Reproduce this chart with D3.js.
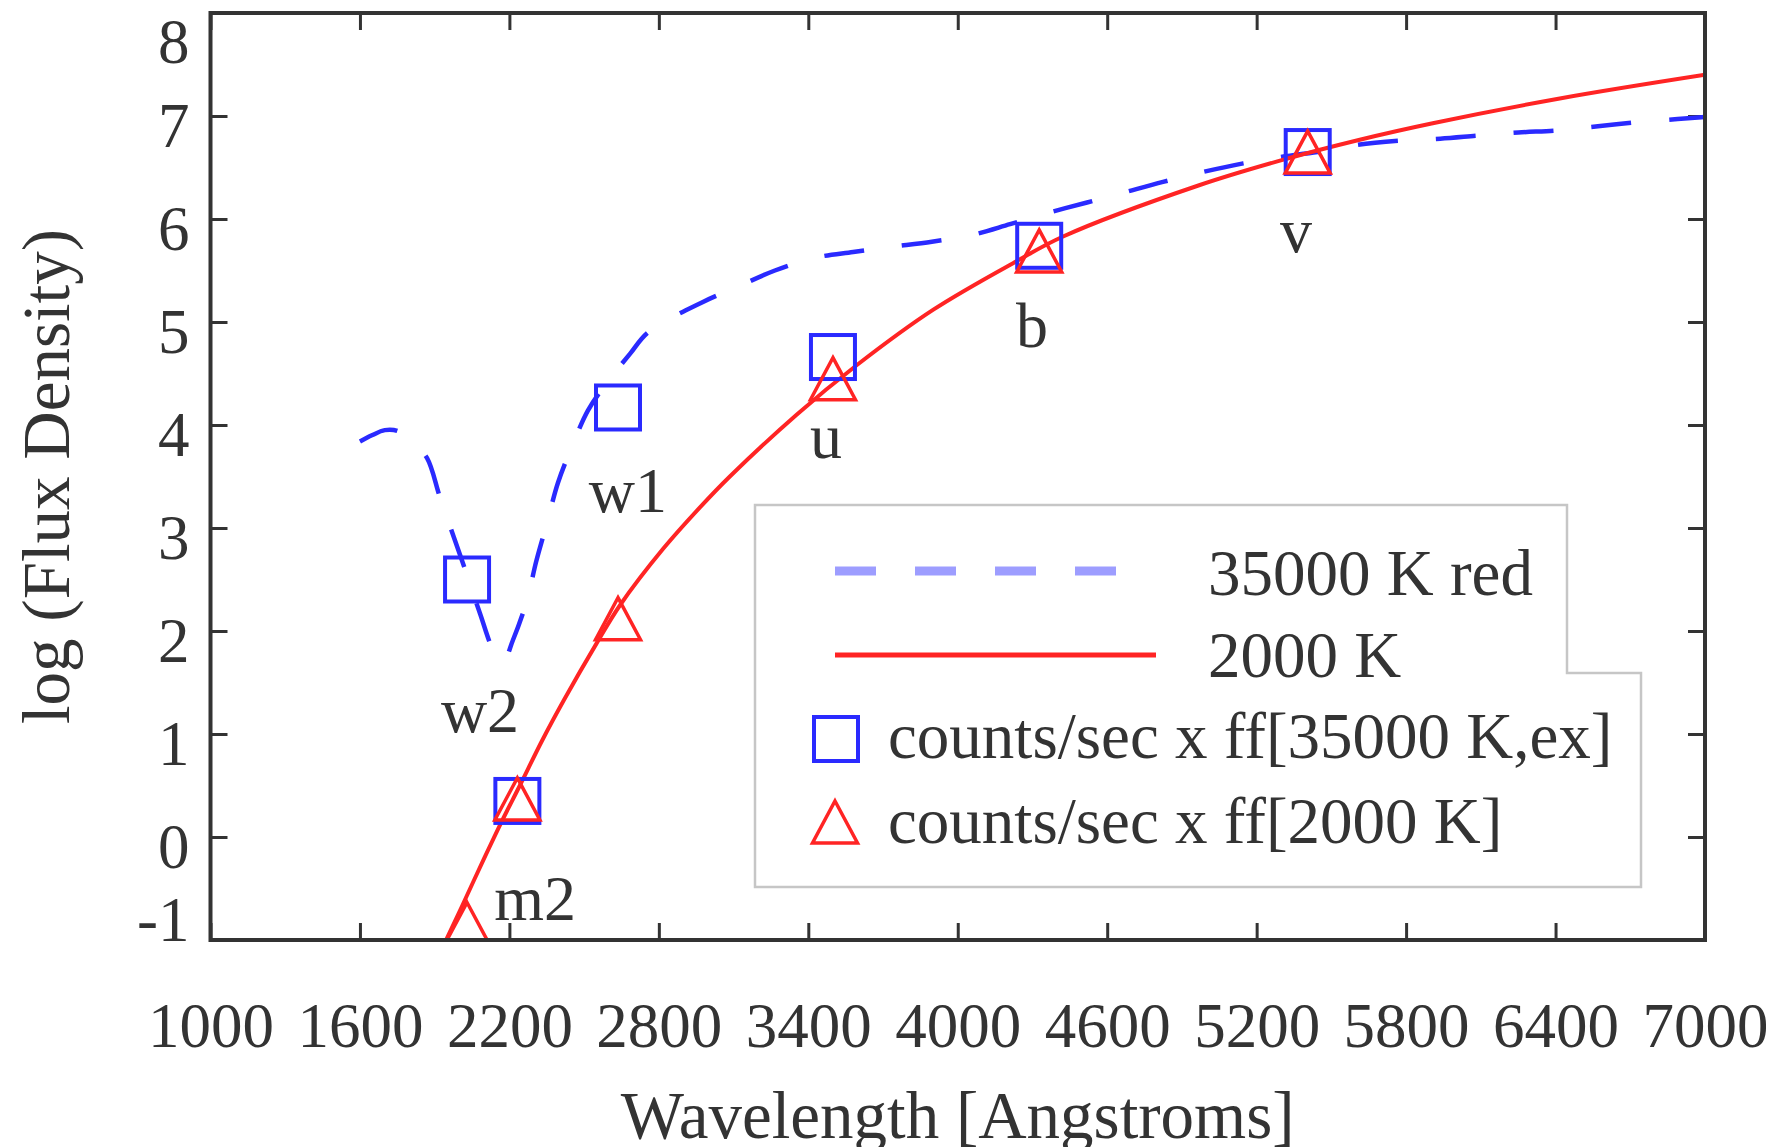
<!DOCTYPE html>
<html>
<head>
<meta charset="utf-8">
<script src="https://cdn.jsdelivr.net/npm/d3@7/dist/d3.min.js"></script>
<style>
  html, body { margin: 0; padding: 0; background: #fff; }
  svg text { font-family: "Liberation Serif", "Times New Roman", serif; fill: #333; }
</style>
</head>
<body>
<svg id="chart" width="1766" height="1147"></svg>
<script>
// photometric points, one per filter
const filters = ["w2", "m2", "w1", "u", "b", "v"];
const filterWave = [2030, 2232, 2636, 3499, 4327, 5405];
const squareFlux = [2.50, 0.35, 4.17, 4.66, 5.74, 6.65];
const triangleFlux = [-0.84, 0.37, 2.12, 4.45, 5.69, 6.65];
// where the filter names sit (baseline, centred)
const labelWave = [2082, 2303, 2676, 3471, 4298, 5358];
const labelFlux = [1.02, -0.81, 3.16, 3.68, 4.76, 5.68];

// 35000 K reddened model (dashed blue)
const hotWave = [1600, 1648, 1700, 1753, 1813, 1869, 1921, 1977, 2026, 2082, 2138, 2174,
  2214, 2271, 2307, 2351, 2395, 2451, 2515, 2588, 2684, 2757, 2973, 3114, 3266, 3419,
  3580, 3736, 3896, 4049, 4210, 4363, 4519, 4671, 4824, 4973, 5146, 5294, 5494, 5606,
  5775, 5937, 6089, 6250, 6410, 6570, 6729, 6890, 7000];
const hotFlux = [3.84, 3.90, 3.95, 3.94, 3.83, 3.68, 3.30, 2.91, 2.57, 2.17, 1.80, 1.70,
  1.91, 2.30, 2.67, 3.05, 3.44, 3.79, 4.14, 4.40, 4.69, 4.90, 5.19, 5.34, 5.50, 5.62,
  5.68, 5.73, 5.78, 5.84, 5.95, 6.06, 6.16, 6.26, 6.36, 6.45, 6.54, 6.60, 6.67, 6.72,
  6.76, 6.78, 6.81, 6.84, 6.86, 6.90, 6.94, 6.97, 6.99];

// 2000 K model (solid red)
const coolWave = [1930, 1948, 2012, 2100, 2169, 2242, 2330, 2419, 2550, 2644, 2818, 2965,
  3085, 3353, 3594, 3902, 4236, 4423, 4972, 5313, 5614, 5907, 6417, 7000];
const coolFlux = [-1.08, -0.99, -0.66, -0.20, 0.15, 0.50, 0.93, 1.33, 1.88, 2.25, 2.80, 3.20,
  3.50, 4.10, 4.58, 5.12, 5.59, 5.83, 6.33, 6.58, 6.77, 6.93, 7.17, 7.40];

const xTicks = [1000, 1600, 2200, 2800, 3400, 4000, 4600, 5200, 5800, 6400, 7000];
const yTicks = [-1, 0, 1, 2, 3, 4, 5, 6, 7, 8];
const legendLabels = ["35000 K red", "2000 K", "counts/sec x ff[35000 K,ex]", "counts/sec x ff[2000 K]"];

const blue = "#2a2aff", red = "#ff2424", axisColor = "#333";
const plotLeft = 210.5, plotRight = 1705, plotTop = 13, plotBottom = 940;

const svg = d3.select("#chart");

const x = d3.scaleLinear().domain([1000, 7000]).range([plotLeft, plotRight]);
const y = d3.scaleLinear().domain([-1, 8]).range([plotBottom, plotTop]);

svg.append("defs").append("clipPath").attr("id", "plot-clip")
  .append("rect")
  .attr("x", plotLeft).attr("y", plotTop)
  .attr("width", plotRight - plotLeft).attr("height", plotBottom - plotTop);

// ---- axes: ticks pointing inward on all four sides
function styleAxis(g) {
  g.select(".domain").remove();
  g.selectAll(".tick line").attr("stroke", axisColor).attr("stroke-width", 3);
}

svg.append("g")
  .attr("transform", `translate(0,${plotBottom})`)
  .call(d3.axisBottom(x).tickValues(xTicks).tickSizeInner(-17).tickSizeOuter(0).tickFormat(d => String(d)))
  .call(styleAxis)
  .call(g => g.selectAll(".tick text")
    .attr("y", 107).attr("dy", 0)
    .style("font-size", "63px"));

svg.append("g")
  .attr("transform", `translate(0,${plotTop})`)
  .call(d3.axisTop(x).tickValues(xTicks).tickSizeInner(-17).tickSizeOuter(0).tickFormat(""))
  .call(styleAxis);

// labels sit a bit under their tick, the end ones are squeezed inside the figure
svg.append("g")
  .attr("transform", `translate(${plotLeft},0)`)
  .call(d3.axisLeft(y).tickValues(yTicks).tickSizeInner(-17).tickSizeOuter(0).tickFormat(d => String(d)))
  .call(styleAxis)
  .call(g => g.selectAll(".tick text")
    .attr("x", -21)
    .attr("dy", 0)
    .attr("y", d => d === 8 ? 49 : d === -1 ? 0 : 30)
    .style("font-size", "63px"));

svg.append("g")
  .attr("transform", `translate(${plotRight},0)`)
  .call(d3.axisRight(y).tickValues(yTicks).tickSizeInner(-17).tickSizeOuter(0).tickFormat(""))
  .call(styleAxis);

// ---- curves and markers
const plot = svg.append("g").attr("clip-path", "url(#plot-clip)");

const line = d3.line()
  .x(d => x(d[0]))
  .y(d => y(d[1]))
  .curve(d3.curveCatmullRom.alpha(0.5));

plot.append("path")
  .datum(d3.zip(hotWave, hotFlux))
  .attr("d", line)
  .attr("fill", "none")
  .attr("stroke", blue)
  .attr("stroke-width", 4.5)
  .attr("stroke-dasharray", "40,38");

plot.append("path")
  .datum(d3.zip(coolWave, coolFlux))
  .attr("d", line)
  .attr("fill", "none")
  .attr("stroke", red)
  .attr("stroke-width", 4);

const sq = 44;
const triPath = "M0,-21L22.5,21L-22.5,21Z";

plot.selectAll("rect.square")
  .data(d3.zip(filterWave, squareFlux))
  .join("rect")
  .attr("class", "square")
  .attr("x", d => x(d[0]) - sq / 2)
  .attr("y", d => y(d[1]) - sq / 2)
  .attr("width", sq).attr("height", sq)
  .attr("fill", "none")
  .attr("stroke", blue)
  .attr("stroke-width", 4);

plot.selectAll("path.triangle")
  .data(d3.zip(filterWave, triangleFlux))
  .join("path")
  .attr("class", "triangle")
  .attr("d", triPath)
  .attr("transform", d => `translate(${x(d[0])},${y(d[1])})`)
  .attr("fill", "none")
  .attr("stroke", red)
  .attr("stroke-width", 3.5);

svg.selectAll("text.filter")
  .data(filters)
  .join("text")
  .attr("class", "filter")
  .attr("x", (d, i) => x(labelWave[i]))
  .attr("y", (d, i) => y(labelFlux[i]))
  .attr("text-anchor", "middle")
  .style("font-size", "64px")
  .text(d => d);

// ---- frame
svg.append("rect")
  .attr("x", plotLeft).attr("y", plotTop)
  .attr("width", plotRight - plotLeft).attr("height", plotBottom - plotTop)
  .attr("fill", "none")
  .attr("stroke", axisColor)
  .attr("stroke-width", 4);

// ---- legend (box has a step on its right side)
const legend = svg.append("g");
legend.append("path")
  .attr("d", "M755,505H1567V673H1641V887H755Z")
  .attr("fill", "#fff")
  .attr("stroke", "#c6c6c6")
  .attr("stroke-width", 2.5);

legend.append("line")
  .attr("x1", 835).attr("x2", 1116).attr("y1", 571).attr("y2", 571)
  .attr("stroke", "#9d9dff").attr("stroke-width", 9)
  .attr("stroke-dasharray", "41,39");
legend.append("line")
  .attr("x1", 835).attr("x2", 1156).attr("y1", 655).attr("y2", 655)
  .attr("stroke", red).attr("stroke-width", 5);
legend.append("rect")
  .attr("x", 836 - sq / 2).attr("y", 739 - sq / 2)
  .attr("width", sq).attr("height", sq)
  .attr("fill", "none").attr("stroke", blue).attr("stroke-width", 4);
legend.append("path")
  .attr("d", triPath)
  .attr("transform", "translate(835,822)")
  .attr("fill", "none").attr("stroke", red).attr("stroke-width", 3.5);

const legendPos = [[1208, 595], [1208, 677], [888, 758], [888, 843]];
legend.selectAll("text")
  .data(legendLabels)
  .join("text")
  .attr("x", (d, i) => legendPos[i][0])
  .attr("y", (d, i) => legendPos[i][1])
  .style("font-size", "65px")
  .text(d => d);

// ---- axis titles
svg.append("text")
  .attr("x", (plotLeft + plotRight) / 2)
  .attr("y", 1138)
  .attr("text-anchor", "middle")
  .style("font-size", "67px")
  .text("Wavelength [Angstroms]");

svg.append("text")
  .attr("transform", `translate(69,${(plotTop + plotBottom) / 2}) rotate(-90)`)
  .attr("text-anchor", "middle")
  .style("font-size", "67px")
  .text("log (Flux Density)");
</script>
</body>
</html>
